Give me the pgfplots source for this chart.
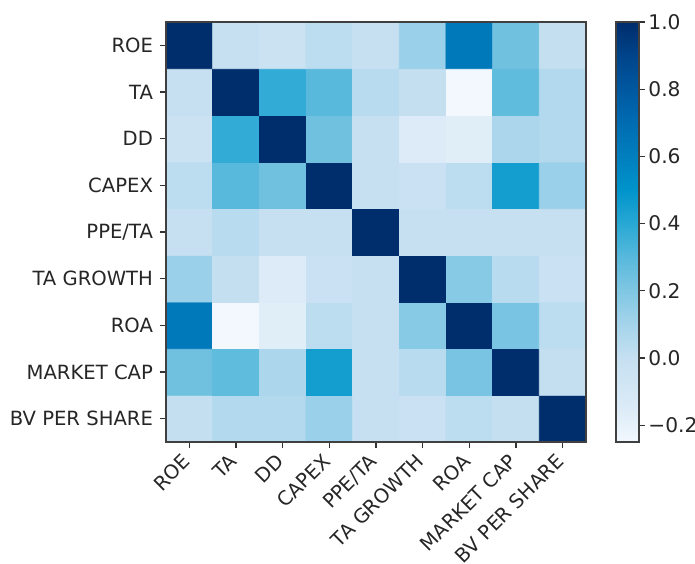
\documentclass[border=0pt]{standalone}
\usepackage{fontspec}
\setmainfont{DejaVu Sans}
\usepackage{pgfplots}
\pgfplotsset{compat=1.18}
\begin{document}
\begin{tikzpicture}
\begin{axis}[
  at={(0,0)}, anchor=south west,
  width=210pt, height=210pt, scale only axis,
  xmin=-0.5, xmax=8.5, ymin=-0.5, ymax=8.5,
  axis on top,
  axis line style={black!75, line width=0.6pt},
  tick pos=left, tick align=outside, major tick length=3pt,
  tick style={black!80, line width=0.6pt},
  xtick={0,...,8}, ytick={0,...,8},
  xticklabels={ROE,TA,DD,CAPEX,PPE/TA,TA GROWTH,ROA,MARKET CAP,BV PER SHARE},
  yticklabels={BV PER SHARE,MARKET CAP,ROA,TA GROWTH,PPE/TA,CAPEX,DD,TA,ROE},
  tick label style={font=\fontsize{9.8}{11}\selectfont, text=black!85},
  xticklabel style={xshift=-4pt, rotate=45, anchor=north east, inner sep=1.5pt},
  colormap={refblues}{[1cm]
    rgb255(0cm)=(242,248,254)
    rgb255(2cm)=(220,235,247)
    rgb255(5cm)=(198,224,241)
    rgb255(7cm)=(165,212,235)
    rgb255(9cm)=(128,199,227)
    rgb255(11cm)=(88,185,220)
    rgb255(13cm)=(40,168,212)
    rgb255(15cm)=(0,148,203)
    rgb255(17cm)=(0,127,190)
    rgb255(19cm)=(0,108,178)
    rgb255(21cm)=(0,88,160)
    rgb255(23cm)=(0,68,138)
    rgb255(25cm)=(0,45,108)
  },
  point meta min=-0.25, point meta max=1,
  colorbar,
  colorbar style={
    width=11.5pt,
    at={(parent axis.north east)}, anchor=north west, xshift=6.5pt,
    ytick={-0.2,0,0.2,0.4,0.6,0.8,1},
    yticklabels={−0.2,0.0,0.2,0.4,0.6,0.8,1.0},
    ytick pos=right, tick align=outside, major tick length=3pt,
    axis line style={black!75, line width=0.6pt},
    tick style={black!80, line width=0.6pt},
    yticklabel style={font=\fontsize{10.1}{12}\selectfont, text=black!85, inner sep=1.5pt},
  },
]
\addplot[matrix plot*, mesh/cols=9, point meta=explicit] table[meta=c] {
x y c
0 0 0.01
1 0 0.06
2 0 0.06
3 0 0.13
4 0 0.00
5 0 -0.02
6 0 0.03
7 0 0.01
8 0 1
0 1 0.24
1 1 0.28
2 1 0.08
3 1 0.45
4 1 0.00
5 1 0.04
6 1 0.22
7 1 1
8 1 0.01
0 2 0.63
1 2 -0.25
2 2 -0.17
3 2 0.03
4 2 0.00
5 2 0.18
6 2 1
7 2 0.22
8 2 0.03
0 3 0.13
1 3 0.01
2 3 -0.15
3 3 -0.02
4 3 0.00
5 3 1
6 3 0.18
7 3 0.04
8 3 -0.02
0 4 0.00
1 4 0.04
2 4 0.00
3 4 0.00
4 4 1
5 4 0.00
6 4 0.00
7 4 0.00
8 4 0.00
0 5 0.03
1 5 0.30
2 5 0.24
3 5 1
4 5 0.00
5 5 -0.02
6 5 0.03
7 5 0.45
8 5 0.13
0 6 -0.03
1 6 0.38
2 6 1
3 6 0.24
4 6 0.00
5 6 -0.15
6 6 -0.17
7 6 0.08
8 6 0.06
0 7 0.00
1 7 1
2 7 0.38
3 7 0.30
4 7 0.04
5 7 0.01
6 7 -0.25
7 7 0.28
8 7 0.06
0 8 1
1 8 0.00
2 8 -0.03
3 8 0.03
4 8 0.00
5 8 0.13
6 8 0.63
7 8 0.24
8 8 0.01
};
\end{axis}
\pgfresetboundingbox
\useasboundingbox (-83pt,-60.5pt) rectangle (264.5pt,221pt);
\end{tikzpicture}
\end{document}
